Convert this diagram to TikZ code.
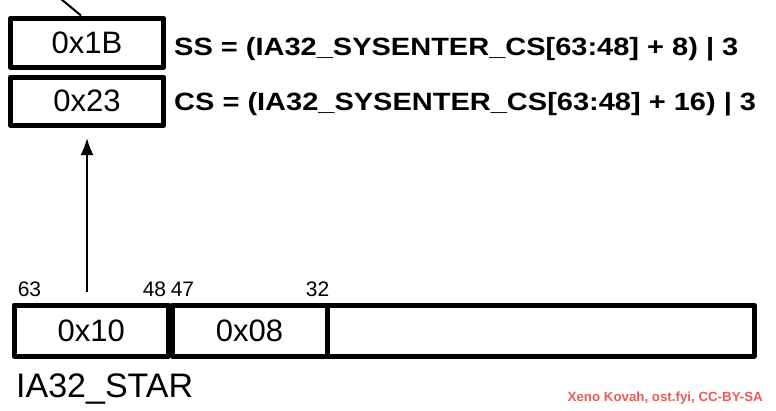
\documentclass[tikz,border=0pt]{standalone}
\usepackage{fontspec}
\setmainfont{Liberation Sans}
\newfontfamily\formfont[FakeStretch=1.16]{Liberation Sans}
\usetikzlibrary{arrows.meta}
\tikzset{
  box/.style={draw=black, line width=5pt, line join=round, fill=white, minimum width=153pt, inner sep=0pt, font=\fontsize{31}{34}\selectfont},
  cell/.style={draw=black, line width=5pt, line join=round, inner sep=0pt, minimum height=51pt, font=\fontsize{31}{34}\selectfont},
  bitnum/.style={inner sep=0pt, font=\fontsize{21}{24}\selectfont},
  formula/.style={inner sep=0pt, anchor=base west, font=\formfont\bfseries\fontsize{25}{28}\selectfont},
  thinline/.style={line width=2pt}
}
\begin{document}
\begin{tikzpicture}[x=1pt,y=-1pt]
\useasboundingbox (0,0) rectangle (776,410);
% top boxes
\node[box, minimum height=49.5pt] (b1) at (87,42.75) {0x1B};
\node[box, minimum height=48.5pt] (b2) at (87,101.25) {0x23};
\coordinate (top) at (61,-1);
\draw[thinline] (top) -- ([xshift=-6pt]b1.north);
% formulas
\node[formula] (ss) at (174,55) {SS = (IA32\_SYSENTER\_CS[63:48] + 8) | 3};
\node[formula] (cs) at (174,110) {CS = (IA32\_SYSENTER\_CS[63:48] + 16) | 3};
% register
\node[cell, minimum width=154.5pt] (r1) at (91.25,330.5) {0x10};
\node[cell, minimum width=155pt] (r2) at (249.5,330.5) {0x08};
\node[cell, minimum width=427pt] (r3) at (540.5,330.5) {};
% bit numbers
\node[bitnum] (n63) at (29.5,289.5) {63};
\node[bitnum] (n48) at (154.5,289.5) {48};
\node[bitnum] (n47) at (182.5,289.5) {47};
\node[bitnum] (n32) at (317.5,289.5) {32};
\node[inner sep=0pt, anchor=base west, font=\fontsize{34}{38}\selectfont] (star) at (16,397) {IA32\_STAR};
% arrow
\coordinate (a0) at (87,292);
\draw[thinline, -{Latex[length=17pt,width=13pt]}, shorten >=10pt] (a0) -- (b2.south);
% credit
\definecolor{credit}{RGB}{235,90,90}
\node[inner sep=0pt, anchor=base east, text=credit, font=\bfseries\fontsize{13.3}{15}\selectfont] (credit) at (763,401)
  {Xeno Kovah, ost.fyi, CC-BY-SA};
\end{tikzpicture}
\end{document}
